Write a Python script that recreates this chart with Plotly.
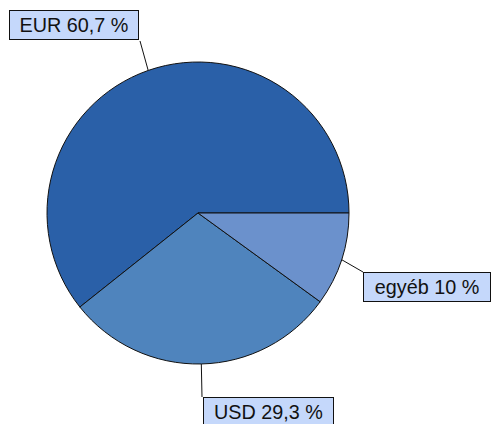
import math
import plotly.graph_objects as go

categories = ["EUR", "USD", "egyéb"]
values = [60.7, 29.3, 10.0]
label_texts = ["EUR 60,7 %", "USD 29,3 %", "egyéb 10 %"]
colors = ["#2a60a8", "#4f84bd", "#6b91cc"]

W, H = 492, 424
CX, CY, R = 198, 213, 151  # pie centre / radius in pixels

def px(x):
    return x / W

def py(y):
    return 1 - y / H

total = sum(values)
# counterclockwise from 3 o'clock: plotly places the first slice clockwise of `rotation`
rotation = 90 - 360 * values[0] / total

fig = go.Figure(go.Pie(
    labels=categories,
    values=values,
    sort=False,
    direction="counterclockwise",
    rotation=rotation,
    marker=dict(colors=colors, line=dict(color="#111111", width=1)),
    textinfo="none",
    hoverinfo="label+percent",
    showlegend=False,
    domain=dict(x=[px(CX - R), px(CX + R)], y=[py(CY + R), py(CY - R)]),
))

# label boxes (top-left corner in pixels) and leader-line end points
boxes = [(9, 10, 128, 28), (203, 397, 129, 28), (363, 272, 126, 28)]
line_ends = [(140, 41), (202, 397), (363, 272)]

cum = 0.0
shapes = []
annotations = []
for i, v in enumerate(values):
    mid = (cum + v / 2) / total * 2 * math.pi
    cum += v
    sx = CX + R * math.cos(mid)
    sy = CY - R * math.sin(mid)
    ex, ey = line_ends[i]
    shapes.append(dict(type="line", xref="paper", yref="paper",
                       x0=px(sx), y0=py(sy), x1=px(ex), y1=py(ey),
                       line=dict(color="#111111", width=1)))
    bx, by, bw, bh = boxes[i]
    annotations.append(dict(
        text=label_texts[i], xref="paper", yref="paper",
        x=px(bx), y=py(by), xanchor="left", yanchor="top",
        showarrow=False, width=bw, height=bh, align="center", valign="middle",
        bgcolor="#c5d8fb", bordercolor="#111111", borderwidth=1, borderpad=0,
        font=dict(family="Liberation Sans, Arial, sans-serif", size=19.8, color="#111111"),
    ))

fig.update_layout(
    width=W, height=H,
    margin=dict(l=0, r=0, t=0, b=0),
    paper_bgcolor="white", plot_bgcolor="white",
    shapes=shapes, annotations=annotations,
)

fig.write_html("out.html", config={"displayModeBar": False},
               post_script="document.body.style.margin='0';document.body.style.overflow='hidden';")
